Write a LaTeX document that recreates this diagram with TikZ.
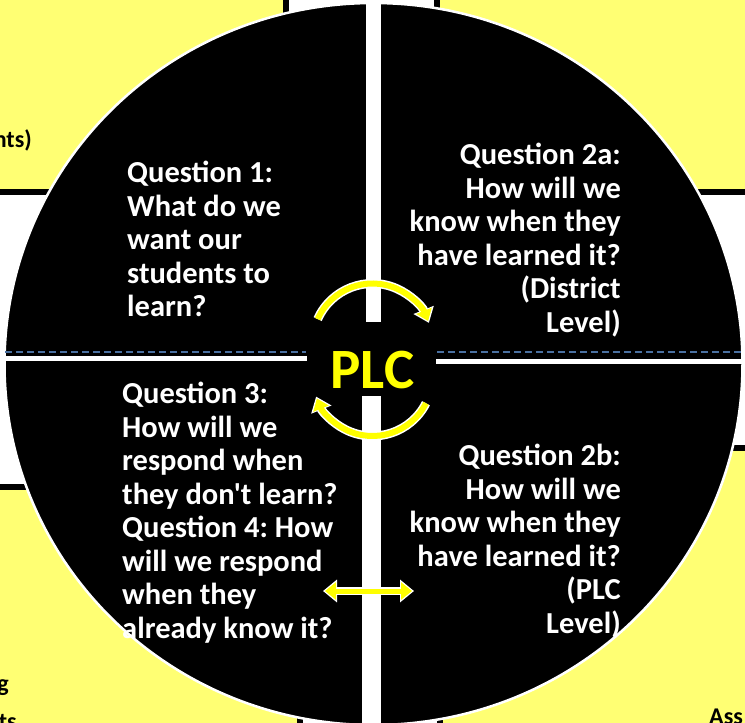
\documentclass[tikz,border=0pt]{standalone}
\usepackage{fontspec}
\setmainfont{Carlito}[Ligatures=TeXOff]
\usetikzlibrary{arrows.meta}
\frenchspacing

\definecolor{plcyellow}{HTML}{FFFF00}
\definecolor{panelyellow}{HTML}{FFFF73}
\definecolor{dashblue}{HTML}{4A70A0}

\tikzset{
  qtext/.style={text=white, inner sep=0pt, font=\fontsize{30.5}{33.5}\selectfont\bfseries},
  cuttext/.style={text=black, inner sep=0pt, font=\fontsize{24}{30}\selectfont\bfseries},
  panel/.style={fill=panelyellow, draw=black, line width=6pt},
  cyclearrow/.style={plcyellow, line width=6pt, arrows={-Triangle[length=11pt,width=16pt]},
    preaction={draw=white, line width=9pt, shorten >=-2pt, arrows={-Triangle[length=14pt,width=21pt]}}},
  swaparrow/.style={plcyellow, line width=5pt, arrows={Triangle[length=11pt,width=17pt]-Triangle[length=11pt,width=17pt]},
    preaction={draw=white, line width=8.5pt, shorten <=-2pt, shorten >=-2pt,
      arrows={Triangle[length=14pt,width=22pt]-Triangle[length=14pt,width=22pt]}}}
}

\begin{document}
\begin{tikzpicture}[x=1pt,y=-1pt]
\useasboundingbox (0,0) rectangle (745,723);
\clip (0,0) rectangle (745,723);
\fill[white] (0,0) rectangle (745,723);

% yellow panels behind the wheel
\draw[panel] (-10,-10) rectangle (286,191.5);
\draw[panel] (437,-10) rectangle (755,191.5);
\draw[panel] (-10,486.5) rectangle (300,733);
\draw[panel] (440,447.5) rectangle (755,733);
\node[cuttext, anchor=base east] (nts) at (32,147) {nts)};
\node[cuttext, anchor=base east] (g) at (9,691) {g};
\node[cuttext, anchor=base east] (ts) at (17,729) {ts};
\node[cuttext, anchor=base west] (ass) at (709,724) {Ass};

% the wheel
\draw[fill=black, draw=white, line width=2.5pt] (373.5,364) ellipse [x radius=369, y radius=361];
\draw[dashblue, line width=2pt, dash pattern=on 7pt off 4pt] (5,351.5) -- (306,351.5);
\draw[dashblue, line width=2pt, dash pattern=on 7pt off 4pt] (437,351.5) -- (745,351.5);
\draw[white, line width=15pt] (373.5,-5) -- (373.5,322);
\draw[white, line width=19pt] (371.5,396) -- (371.5,730);
\draw[white, line width=5pt] (-5,358.5) -- (307,358.5);
\draw[white, line width=5pt] (436,361) -- (750,361);

\node[text=plcyellow, inner sep=0pt, font=\fontsize{57}{57}\selectfont\bfseries] (plc) at (372.5,370) {PLC};

% cycle arrows round PLC
\draw[cyclearrow] ([shift={(372.5,343.5)}]-156:60) arc[start angle=-156, end angle=-22, radius=60];
\draw[cyclearrow] ([shift={(372.5,376)}]27:60) arc[start angle=27, end angle=158, radius=60];
\coordinate (swapL) at (325,591);
\coordinate (swapR) at (412,591);
\draw[swaparrow] (swapL) -- (swapR);

% the questions
\node[qtext, anchor=north west, align=left] (q1) at (127,161)
  {Question 1:\\What do we\\want our\\students to\\learn?};
\node[qtext, anchor=north east, align=right] (q2a) at (621,143)
  {Question 2a:\\How will we\\know when they\\have learned it?\\(District\\Level)};
\node[qtext, anchor=north west, align=left] (q34) at (122,382)
  {Question 3:\\How will we\\respond when\\they don't learn?\\Question 4: How\\will we respond\\when they\\already know it?};
\node[qtext, anchor=north east, align=right] (q2b) at (621,444)
  {Question 2b:\\How will we\\know when they\\have learned it?\\(PLC\\Level)};
\end{tikzpicture}
\end{document}
